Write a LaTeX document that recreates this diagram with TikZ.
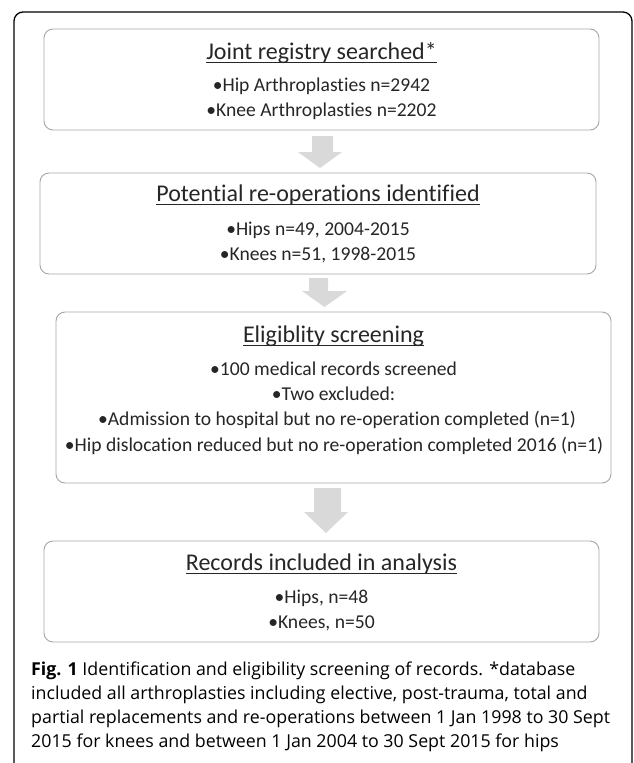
\documentclass[tikz,border=0pt]{standalone}
\usepackage{fontspec}
\setmainfont{Carlito}[Ligatures=NoCommon]
\newfontfamily\capfont{Open Sans}
\definecolor{boxgray}{HTML}{A6A6A6}
\definecolor{arrgray}{HTML}{D9D9D9}
\definecolor{txt}{HTML}{262626}
\newcommand\myul[1]{\setbox0\hbox{#1}\rlap{\color{txt}\rule[-3.9pt]{\wd0}{1.1pt}}\box0}
\begin{document}
\begin{tikzpicture}[x=1pt,y=-1pt,
  boxnode/.style={draw=boxgray, line width=0.9pt, rounded corners=9pt, inner sep=0pt},
  ttl/.style={font=\fontsize{24}{28}\selectfont, text=txt, anchor=base, inner sep=0pt},
  bul/.style={font=\fontsize{19.6}{24}\selectfont, text=txt, anchor=base, inner sep=0pt},
  arr/.style={fill=arrgray, draw=none},
  frame/.style={draw=black, line width=1.3pt}]
\useasboundingbox (0,0) rectangle (633,763);
% outer frame
\draw[frame, rounded corners=9pt] (14,800) -- (14,12) -- (632,12) -- (632,800);
% boxes
\node[boxnode, minimum width=555pt, minimum height=101pt] (b1) at (321.5,79.5) {};
\node[boxnode, minimum width=556pt, minimum height=101pt] (b2) at (318,223.5) {};
\node[boxnode, minimum width=555pt, minimum height=171pt] (b3) at (333.5,397.5) {};
\node[boxnode, minimum width=555pt, minimum height=101pt] (b4) at (321.5,591.5) {};
% box 1 texts
\node[ttl] (t1) at (321.5,59) {\myul{Joint registry searched*}};
\node[bul] (t1a) at (321.5,91) {•Hip Arthroplasties n=2942};
\node[bul] (t1b) at (321.5,116) {•Knee Arthroplasties n=2202};
% box 2 texts
\node[ttl] (t2) at (318,201) {\myul{Potential re-operations identified}};
\node[bul] (t2a) at (318,235) {•Hips n=49, 2004-2015};
\node[bul] (t2b) at (318,260) {•Knees n=51, 1998-2015};
% box 3 texts
\node[ttl] (t3) at (333.5,342) {\myul{Eligiblity screening}};
\node[bul] (t3a) at (333.5,375) {•100 medical records screened};
\node[bul] (t3b) at (333.5,400.5) {•Two excluded:};
\node[bul] (t3c) at (337,425) {•Admission to hospital but no re-operation completed (n=1)};
\node[bul] (t3d) at (334,451) {•Hip dislocation reduced but no re-operation completed 2016 (n=1)};
% box 4 texts
\node[ttl] (t4) at (321.5,570) {\myul{Records included in analysis}};
\node[bul] (t4a) at (321.5,603) {•Hips, n=48};
\node[bul] (t4b) at (321.5,628) {•Knees, n=50};
% block arrows
\fill[arr] (312,136) -- (333,136) -- (333,152) -- (342,152) -- (320,168) -- (298,152) -- (312,152) -- cycle;
\fill[arr] (309,278) -- (328,278) -- (328,291) -- (347,291) -- (324.5,307) -- (302,291) -- (309,291) -- cycle;
\fill[arr] (314,488) -- (341,488) -- (341,512) -- (348,512) -- (326,533) -- (304,512) -- (314,512) -- cycle;
% caption (anchored at the baseline of its last line)
\node[anchor=base west, inner sep=0pt, align=left, text=black,
      font=\capfont\fontsize{17.8}{24}\selectfont] (cap) at (31,747)
 {\textbf{Fig. 1} Identification and eligibility screening of records. *database\\
  included all arthroplasties including elective, post-trauma, total and\\
  partial replacements and re-operations between 1 Jan 1998 to 30 Sept\\
  2015 for knees and between 1 Jan 2004 to 30 Sept 2015 for hips};
\end{tikzpicture}
\end{document}
